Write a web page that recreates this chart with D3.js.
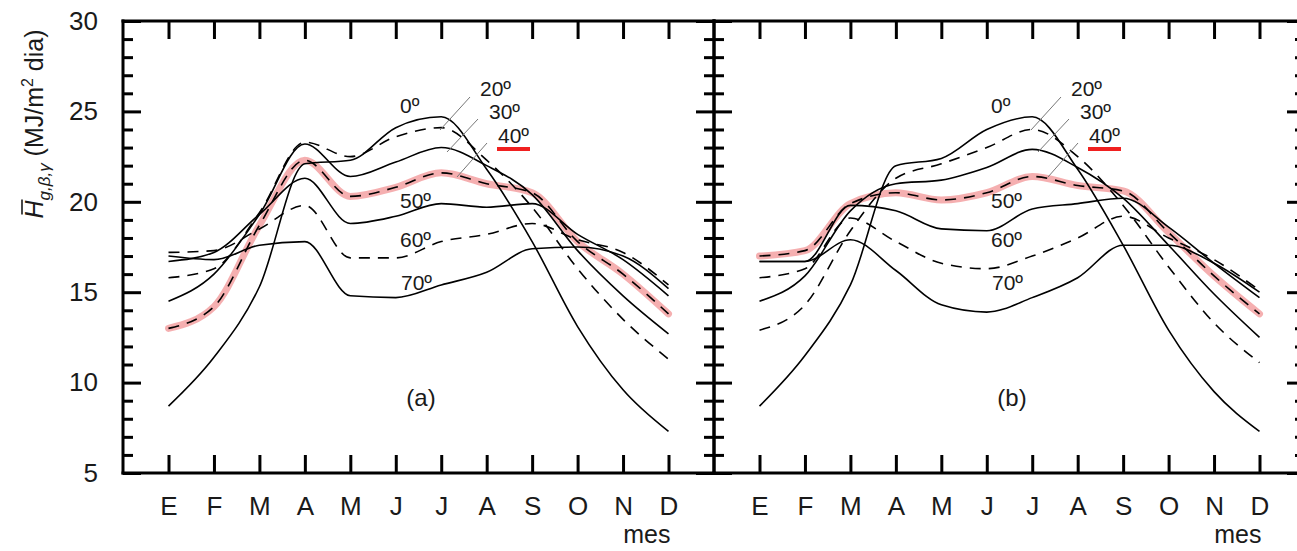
<!DOCTYPE html>
<html><head><meta charset="utf-8">
<script src="https://cdn.jsdelivr.net/npm/d3@7"></script>
<style>
html,body{margin:0;padding:0;background:#fff;}
svg{display:block;font-family:"Liberation Sans",Arial,sans-serif;}
</style></head><body>
<svg id="chart" width="1297" height="551"></svg>
<script>
// Month initials (Spanish) and axis ticks
const months = ["E","F","M","A","M","J","J","A","S","O","N","D"];
const yMajor = [5, 10, 15, 20, 25, 30];
const yMinor = d3.range(6, 30).filter(v => v % 5 !== 0);
const tilts = ["0º","20º","30º","40º","50º","60º","70º"];

// Panel (a): monthly mean daily irradiation, MJ/m² dia, per tilt
const a0  = [8.7, 11.4, 15.3, 22.1, 22.3, 24.1, 24.7, 21.8, 17.8, 13.1, 9.6, 7.3];
const a20 = [15.8, 16.3, 19.4, 23.3, 22.5, 23.6, 24.1, 22.3, 19.7, 16.3, 13.5, 11.3];
const a30 = [14.5, 16.0, 19.3, 23.2, 21.4, 22.2, 23.0, 22.0, 20.4, 17.3, 14.8, 12.7];
const a40 = [13.0, 14.2, 18.7, 22.3, 20.3, 20.8, 21.6, 21.0, 20.5, 17.8, 16.0, 13.8];
const a50 = [16.7, 17.2, 19.3, 21.3, 18.8, 19.2, 19.9, 19.7, 19.9, 18.2, 16.8, 14.8];
const a60 = [17.2, 17.3, 18.5, 19.8, 16.9, 16.9, 17.8, 18.2, 18.8, 17.9, 17.2, 15.4];
const a70 = [17.0, 16.8, 17.6, 17.8, 14.8, 14.7, 15.4, 16.1, 17.4, 17.5, 17.0, 15.2];

// Panel (b)
const b0  = [8.7, 11.5, 15.4, 22.0, 22.4, 24.0, 24.7, 21.8, 17.6, 12.9, 9.5, 7.3];
const b20 = [12.9, 14.3, 18.4, 21.3, 22.1, 23.0, 24.0, 22.5, 19.8, 16.4, 13.3, 11.1];
const b30 = [14.5, 15.9, 19.5, 21.0, 21.2, 21.9, 22.9, 21.9, 20.2, 17.6, 14.9, 12.5];
const b40 = [17.0, 17.3, 19.9, 20.5, 20.1, 20.5, 21.4, 20.9, 20.6, 18.3, 15.9, 13.8];
const b50 = [16.7, 16.7, 19.8, 19.5, 18.5, 18.4, 19.6, 19.9, 20.2, 18.6, 16.6, 14.7];
const b60 = [15.8, 16.3, 19.1, 17.8, 16.6, 16.3, 17.0, 18.0, 19.2, 18.0, 16.8, 15.1];
const b70 = [16.7, 16.7, 17.9, 16.2, 14.3, 13.9, 14.7, 15.8, 17.6, 17.6, 16.6, 15.0];

const svg = d3.select("#chart");
const plotTop = 21, plotBottom = 473;
const ink = "#1a1a1a";
const y = d3.scaleLinear().domain([5, 30]).range([plotBottom, plotTop]);

const panels = [
  { left: 123, right: 714, tag: "(a)", series: [a0, a20, a30, a40, a50, a60, a70], yLabels: true },
  { left: 714, right: 1305, tag: "(b)", series: [b0, b20, b30, b40, b50, b60, b70], yLabels: false }
];
const dashed = [false, true, false, true, false, true, false];

// curve label layout, relative to the panel's left edge
const labelPos = [
  { dx: 277, y: 113 }, { dx: 357, y: 96 }, { dx: 366, y: 119 }, { dx: 375, y: 143 },
  { dx: 277, y: 208 }, { dx: 277, y: 247 }, { dx: 278, y: 290 }
];
const leaders = [
  { x1: 347, y1: 97, x2: 317, y2: 130 },
  { x1: 355, y1: 119, x2: 324, y2: 152 },
  { x1: 364, y1: 143, x2: 334, y2: 177 }
];

function styleTicks(g) {
  g.select(".domain").remove();
  g.selectAll(".tick line").attr("stroke", "#000").attr("stroke-width", 3);
}

panels.forEach(p => {
  const x = d3.scaleLinear().domain([0, 11]).range([p.left + 45.5, p.right - 45.5]);
  const g = svg.append("g");

  // inward ticks on all four sides
  g.append("g").attr("transform", `translate(${p.left},0)`)
    .call(d3.axisRight(y).tickValues(yMajor).tickSize(18).tickFormat("")).call(styleTicks);
  g.append("g").attr("transform", `translate(${p.left},0)`)
    .call(d3.axisRight(y).tickValues(yMinor).tickSize(10).tickFormat("")).call(styleTicks);
  g.append("g").attr("transform", `translate(${p.right},0)`)
    .call(d3.axisLeft(y).tickValues(yMajor).tickSize(18).tickFormat("")).call(styleTicks);
  g.append("g").attr("transform", `translate(${p.right},0)`)
    .call(d3.axisLeft(y).tickValues(yMinor).tickSize(10).tickFormat("")).call(styleTicks);
  g.append("g").attr("transform", `translate(0,${plotTop})`)
    .call(d3.axisBottom(x).tickValues(d3.range(12)).tickSize(18).tickFormat("")).call(styleTicks);
  g.append("g").attr("transform", `translate(0,${plotBottom})`)
    .call(d3.axisTop(x).tickValues(d3.range(12)).tickSize(18).tickFormat("")).call(styleTicks);

  // month labels
  const mx = g.append("g").attr("transform", `translate(0,${plotBottom})`)
    .call(d3.axisBottom(x).tickValues(d3.range(12)).tickSize(0).tickPadding(24).tickFormat(i => months[i]));
  mx.select(".domain").remove();
  mx.selectAll("text").attr("font-size", 26).attr("fill", ink)
    .attr("font-family", '"Liberation Sans",Arial,sans-serif');

  if (p.yLabels) {
    const yl = g.append("g").attr("transform", `translate(${p.left},0)`)
      .call(d3.axisLeft(y).tickValues(yMajor).tickSize(0).tickPadding(25));
    yl.select(".domain").remove();
    yl.selectAll("text").attr("font-size", 26).attr("fill", ink)
      .attr("font-family", '"Liberation Sans",Arial,sans-serif');
  }

  // frame
  const frame = g.append("g").attr("stroke", "#000").attr("stroke-width", 3).attr("stroke-linecap", "square");
  frame.append("line").attr("x1", p.left).attr("x2", p.right).attr("y1", plotTop).attr("y2", plotTop);
  frame.append("line").attr("x1", p.left).attr("x2", p.right).attr("y1", plotBottom).attr("y2", plotBottom);
  frame.append("line").attr("x1", p.left).attr("x2", p.left).attr("y1", plotTop).attr("y2", plotBottom);
  frame.append("line").attr("x1", p.right).attr("x2", p.right).attr("y1", plotTop).attr("y2", plotBottom);

  const line = d3.line().x((d, i) => x(i)).y(d => y(d)).curve(d3.curveMonotoneX);

  // soft red band behind the 40º curve
  g.append("path").datum(p.series[3]).attr("d", line)
    .attr("fill", "none").attr("stroke", "rgb(236,110,112)").attr("stroke-opacity", 0.55)
    .attr("stroke-width", 7).attr("stroke-linejoin", "round").attr("stroke-linecap", "round");

  p.series.forEach((s, k) => {
    g.append("path").datum(s).attr("d", line)
      .attr("fill", "none").attr("stroke", "#000").attr("stroke-width", 1.6)
      .attr("stroke-dasharray", dashed[k] ? "11,8" : null);
  });

  // leader lines and curve labels
  leaders.forEach(l => {
    g.append("line").attr("x1", p.left + l.x1).attr("y1", l.y1)
      .attr("x2", p.left + l.x2).attr("y2", l.y2)
      .attr("stroke", "#777").attr("stroke-width", 1);
  });
  tilts.forEach((t, k) => {
    g.append("text").attr("x", p.left + labelPos[k].dx).attr("y", labelPos[k].y)
      .attr("font-size", 21).attr("fill", ink).text(t);
  });
  g.append("line").attr("x1", p.left + labelPos[3].dx - 1).attr("x2", p.left + labelPos[3].dx + 32)
    .attr("y1", 149).attr("y2", 149).attr("stroke", "#f02020").attr("stroke-width", 4);

  g.append("text").attr("x", p.left + 298).attr("y", 406).attr("text-anchor", "middle")
    .attr("font-size", 24).attr("fill", ink).text(p.tag);

  g.append("text").attr("x", x(11) + 2).attr("y", 543).attr("text-anchor", "end")
    .attr("font-size", 25).attr("fill", ink).text("mes");
});

// y-axis title
const tg = svg.append("g").attr("transform", "translate(43,124) rotate(-90)");
const tt = tg.append("text").attr("text-anchor", "middle").attr("font-size", 25).attr("fill", ink);
tt.append("tspan").attr("font-style", "italic").text("H");
tt.append("tspan").attr("font-style", "italic").attr("font-size", 17).attr("dy", 7).text("g,β,γ");
tt.append("tspan").attr("dy", -7).text(" (MJ/m");
tt.append("tspan").attr("font-size", 16).attr("dy", -10).text("2");
tt.append("tspan").attr("dy", 10).text(" dia)");
const hx = tt.node().getExtentOfChar(0);
tg.append("line").attr("x1", hx.x + 4).attr("x2", hx.x + hx.width + 1)
  .attr("y1", -21).attr("y2", -21).attr("stroke", ink).attr("stroke-width", 1.6);
</script>
</body></html>
